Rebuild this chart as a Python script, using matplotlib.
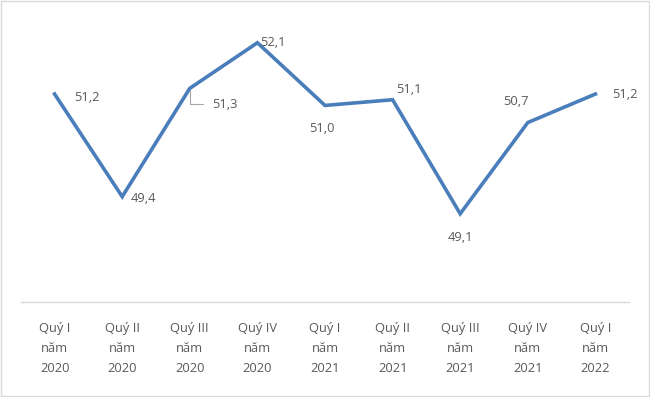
import matplotlib.pyplot as plt
from matplotlib.patches import Rectangle

quarters = ["Quý I\nnăm\n2020", "Quý II\nnăm\n2020", "Quý III\nnăm\n2020", "Quý IV\nnăm\n2020",
            "Quý I\nnăm\n2021", "Quý II\nnăm\n2021", "Quý III\nnăm\n2021", "Quý IV\nnăm\n2021",
            "Quý I\nnăm\n2022"]
values = [51.2, 49.4, 51.3, 52.1, 51.0, 51.1, 49.1, 50.7, 51.2]
# label offsets in pixels (dx, dy) relative to each point
offsets = [(32, -3), (21, -2), (35, -16), (16, 0), (-3, -23), (16, 10), (0, -24), (-12, 21), (30, 0)]

line_color = "#4a7ebb"
text_color = "#595959"
grid_color = "#d9d9d9"

fig = plt.figure(figsize=(6.5, 3.97), dpi=100)
ax = fig.add_axes([0.032, 0.239, 0.936, 0.718])

x = list(range(len(values)))
ax.plot(x, values, color=line_color, linewidth=2.6, solid_joinstyle="miter")
ax.set_xlim(-0.5, len(values) - 0.5)
ax.set_ylim(47.55, 52.55)

for i, (v, (dx, dy)) in enumerate(zip(values, offsets)):
    ax.annotate(f"{v:.1f}".replace(".", ","), (i, v), xytext=(dx, dy),
                textcoords="offset pixels", ha="center", va="center",
                fontsize=9.3, color=text_color, family="Open Sans")

# leader line for Quy III 2020 label
ax.annotate("", (2, values[2]), xytext=(16, -16), textcoords="offset pixels",
            arrowprops=dict(arrowstyle="-", color="#a6a6a6", lw=0.8,
                            connectionstyle="angle,angleA=0,angleB=90,rad=0"))

for s in ["top", "right", "left"]:
    ax.spines[s].set_visible(False)
ax.spines["bottom"].set_color(grid_color)
ax.spines["bottom"].set_linewidth(1)
ax.set_yticks([])
ax.set_xticks(x)
ax.set_xticklabels(quarters, fontsize=9.3, color=text_color, family="Open Sans", linespacing=1.72)
ax.tick_params(axis="x", length=0, pad=14)

fig.patches.append(Rectangle((0.001, 0.002), 0.997, 0.995, transform=fig.transFigure,
                             fill=False, edgecolor=grid_color, linewidth=1))

plt.savefig("out.png", dpi=100)
